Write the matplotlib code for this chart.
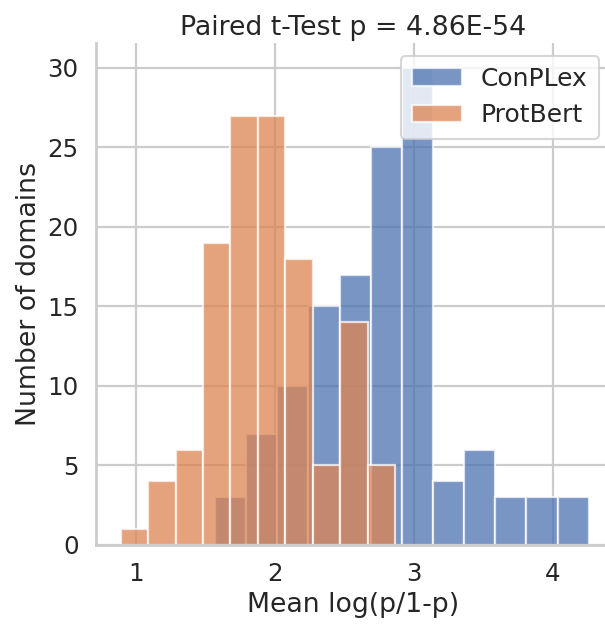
import numpy as np
import matplotlib
matplotlib.use("Agg")
import matplotlib.pyplot as plt
import seaborn as sns

# Data
series_names = ["ConPLex", "ProtBert"]
conplex_counts = [3, 7, 10, 15, 17, 25, 30, 4, 6, 3, 3, 3]
conplex_bin_start = 1.567
conplex_bin_width = 0.2244
protbert_counts = [1, 4, 6, 19, 27, 27, 18, 5, 14, 5]
protbert_bin_start = 0.8876
protbert_bin_width = 0.1976
title = "Paired t-Test p = 4.86E-54"
xlabel = "Mean log(p/1-p)"
ylabel = "Number of domains"

sns.set_theme(style="whitegrid", context="talk", font_scale=1.07,
              rc={"axes.linewidth": 2.0, "grid.linewidth": 1.6})
plt.rcParams['font.family'] = ['DejaVu Sans']

fig = plt.figure(figsize=(6.05, 6.24), dpi=100)
ax = fig.add_axes([96/605, 79/624, 515/605, 502/624])

def edges(start, width, n):
    return start + width * np.arange(n + 1)

c_edges = edges(conplex_bin_start, conplex_bin_width, len(conplex_counts))
p_edges = edges(protbert_bin_start, protbert_bin_width, len(protbert_counts))
c_centers = (c_edges[:-1] + c_edges[1:]) / 2
p_centers = (p_edges[:-1] + p_edges[1:]) / 2

pal = sns.color_palette("deep")
ax.hist(c_centers, bins=c_edges, weights=conplex_counts, color=pal[0],
        alpha=0.75, edgecolor="white", linewidth=1.6, label=series_names[0])
ax.hist(p_centers, bins=p_edges, weights=protbert_counts, color=pal[1],
        alpha=0.75, edgecolor="white", linewidth=1.6, label=series_names[1])

ax.set_xlim(0.71, 4.42)
ax.set_ylim(0, 31.57)
ax.set_xticks([1, 2, 3, 4])
ax.set_yticks([0, 5, 10, 15, 20, 25, 30])
ax.set_xlabel(xlabel)
ax.set_ylabel(ylabel)
ax.set_title(title)
sns.despine(ax=ax)
ax.legend(loc="upper right", fontsize=18, handletextpad=0.75, borderpad=0.45)

fig.savefig("out.png", dpi=100)
